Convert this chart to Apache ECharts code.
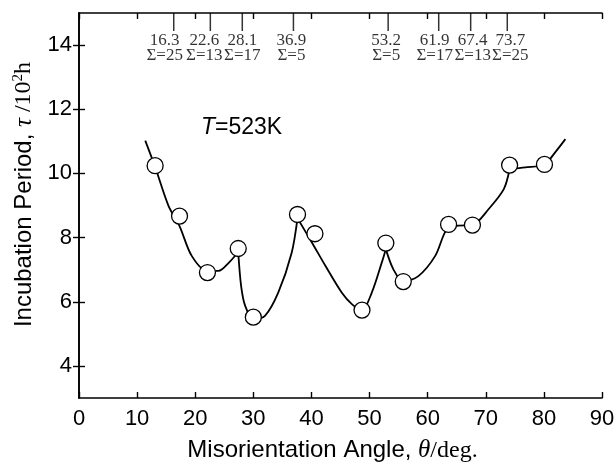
<!DOCTYPE html>
<html>
<head>
<meta charset="utf-8">
<script src="https://cdn.jsdelivr.net/npm/echarts@6/dist/echarts.min.js"></script>
<style>
html,body{margin:0;padding:0;background:#fff;}
#main{width:616px;height:464px;}
</style>
</head>
<body>
<div id="main"></div>
<script>
// measured points (angle, incubation period)
var angles = [13.1, 17.3, 22.1, 27.4, 30.0, 37.6, 40.6, 48.7, 52.8, 55.8, 63.6, 67.7, 74.1, 80.1];
var periods = [10.24, 8.67, 6.91, 7.66, 5.52, 8.72, 8.12, 5.74, 7.83, 6.63, 8.41, 8.39, 10.26, 10.28];

// guide curve, split at the cusps
var curve1 = [[11.4, 11.02], [13.1, 10.2], [15.4, 8.99], [17.3, 8.36], [19.4, 7.43], [22.1, 6.96], [24.0, 6.96], [25.8, 7.22], [27.4, 7.55]];
var curve2 = [[27.4, 7.55], [27.9, 6.49], [28.6, 5.87], [30.0, 5.46], [32.0, 5.56], [34.3, 6.29], [36.6, 7.53], [37.6, 8.6]];
var curve3 = [[37.6, 8.6], [40.1, 7.84], [42.4, 7.12], [45.2, 6.29], [47.0, 5.92], [48.7, 5.74], [50.4, 6.29], [52.1, 7.22], [52.8, 7.64]];
var curve4 = [[52.8, 7.64], [54.1, 7.01], [55.8, 6.63], [58.4, 6.80], [61.3, 7.43], [63.3, 8.26], [65.3, 8.37], [67.7, 8.39], [70.5, 8.89], [73.1, 9.51], [74.1, 10.13]];
var curve5 = [[74.1, 10.13], [76.8, 10.19], [80.1, 10.28], [81.9, 10.65], [83.7, 11.07]];

// coincidence boundaries marked on the top axis
var sigmaAngles = [16.3, 22.6, 28.1, 36.9, 53.2, 61.9, 67.4, 73.7];
var sigmaValues = [25, 13, 17, 5, 5, 17, 13, 25];

var yTicks = [4, 6, 8, 10, 12, 14];

// small horizontal nudge of each sigma label (px), like the printed figure
var sigmaNudge = [-9, -6, 0, -2, -2, -4, 2, 3];

var chart = echarts.init(document.getElementById('main'));

var sans = 'Liberation Sans';
var serif = 'Liberation Serif';

function curveSeries(d){
	return {
		type: 'line',
		data: d,
		smooth: 0.3,
		symbol: 'none',
		lineStyle: {color: '#000', width: 1.8},
		z: 2,
		silent: true
	};
}

var points = angles.map(function(a, i){ return [a, periods[i]]; });
var sigmaData = sigmaAngles.map(function(a, i){
	return {
		value: [a, 15],
		sigma: sigmaValues[i],
		label: {offset: [sigmaNudge[i], 0]}
	};
});

var axisCommon = {
	min: 0, max: 90, interval: 10,
	axisLine: {show: true, lineStyle: {color: '#000', width: 1.6}},
	axisTick: {show: true, inside: true, length: 6, lineStyle: {color: '#000', width: 1.4}},
	splitLine: {show: false}
};

var option = {
	animation: false,
	backgroundColor: '#fff',
	grid: {left: 79, right: 14, top: 13, bottom: 66, containLabel: false, outerBoundsMode: 'none'},
	xAxis: [
		Object.assign({}, axisCommon, {
			type: 'value',
			position: 'bottom',
			axisLabel: {show: true, margin: 10, fontSize: 22, color: '#000', fontFamily: sans},
			name: '{a|Misorientation Angle, }{i|θ}{s|/deg.}',
			nameLocation: 'middle',
			nameGap: 40,
			nameTextStyle: {
				padding: [0, 16, 0, 0],
				rich: {
					a: {fontSize: 24, fontFamily: sans, color: '#000'},
					i: {fontSize: 25, fontFamily: serif, fontStyle: 'italic', color: '#000'},
					s: {fontSize: 24, fontFamily: serif, color: '#000'}
				}
			}
		}),
		Object.assign({}, axisCommon, {
			type: 'value',
			position: 'top',
			axisLabel: {show: false}
		})
	],
	yAxis: [
		{
			type: 'value',
			min: 3, max: 15,
			position: 'left',
			axisLine: {show: true, lineStyle: {color: '#000', width: 1.6}},
			axisTick: {show: true, inside: true, length: 6, customValues: yTicks, lineStyle: {color: '#000', width: 1.4}},
			axisLabel: {show: true, customValues: yTicks, margin: 7, fontSize: 22, color: '#000', fontFamily: sans},
			splitLine: {show: false},
			name: '{a|Incubation Period, }{i|τ}{s| /10}{p|2}{s|h}',
			nameLocation: 'middle',
			nameGap: 38,
			nameTextStyle: {
				padding: [0, 0, 0, 22],
				rich: {
					a: {fontSize: 24, fontFamily: sans, color: '#000'},
					i: {fontSize: 25, fontFamily: serif, fontStyle: 'italic', color: '#000'},
					s: {fontSize: 24, fontFamily: serif, color: '#000'},
					p: {fontSize: 15, fontFamily: serif, color: '#000', padding: [0, 0, 12, 0]}
				}
			}
		},
		{
			type: 'value',
			min: 3, max: 15,
			position: 'right',
			axisLine: {show: true, lineStyle: {color: '#000', width: 1.6}},
			axisTick: {show: true, inside: true, length: 6, customValues: yTicks, lineStyle: {color: '#000', width: 1.4}},
			axisLabel: {show: false},
			splitLine: {show: false}
		}
	],
	graphic: [
		{
			type: 'text',
			left: 201,
			top: 116,
			style: {
				text: '{i|T}{a|=523K}',
				rich: {
					i: {fontSize: 23, fontFamily: sans, fontStyle: 'italic', fill: '#000'},
					a: {fontSize: 23, fontFamily: sans, fill: '#000'}
				}
			}
		}
	],
	series: [
		curveSeries(curve1),
		curveSeries(curve2),
		curveSeries(curve3),
		curveSeries(curve4),
		curveSeries(curve5),
		{
			type: 'scatter',
			data: points,
			symbol: 'circle',
			symbolSize: 16,
			itemStyle: {color: '#fff', borderColor: '#000', borderWidth: 1.3, opacity: 1},
			z: 5,
			silent: true
		},
		{
			type: 'scatter',
			data: sigmaData,
			symbol: 'rect',
			symbolSize: [1.5, 18],
			symbolOffset: [0, 9],
			itemStyle: {color: '#000'},
			label: {
				show: true,
				position: 'bottom',
				distance: 2,
				formatter: function(p){
					return p.value[0].toFixed(1) + '\nΣ=' + p.data.sigma;
				},
				fontFamily: serif,
				fontSize: 17,
				lineHeight: 15,
				color: '#000'
			},
			z: 4,
			silent: true
		}
	]
};

chart.setOption(option);
</script>
</body>
</html>
